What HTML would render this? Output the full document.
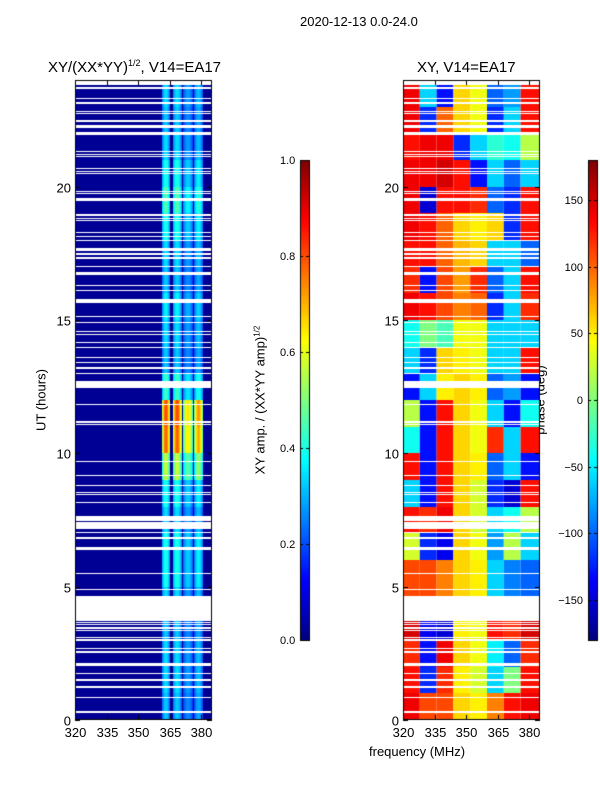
<!DOCTYPE html>
<html><head><meta charset="utf-8"><style>
body{margin:0;background:#fff;width:600px;height:800px;position:relative;overflow:hidden;font-family:"Liberation Sans","DejaVu Sans",sans-serif;color:#000}
.t{position:absolute;white-space:nowrap;font-size:13px}
canvas{position:absolute}
</style></head><body>
<div class="t" style="left:300px;top:14px">2020-12-13 0.0-24.0</div>
<div class="t" style="left:48px;top:58px;font-size:15px">XY/(XX*YY)<sup style="font-size:9px">1/2</sup>, V14=EA17</div>
<div class="t" style="left:417px;top:59px;font-size:15px">XY, V14=EA17</div>
<div class="t" style="left:41px;top:400px;transform:translate(-50%,-50%) rotate(-90deg)">UT (hours)</div>
<div class="t" style="left:369px;top:744px">frequency (MHz)</div>
<div class="t" style="left:260px;top:400px;transform:translate(-50%,-50%) rotate(-90deg)">XY amp. / (XX*YY amp)<sup style="font-size:8px">1/2</sup></div>
<div class="t" style="left:540px;top:400px;transform:translate(-50%,-50%) rotate(-90deg)">phase (deg)</div>
<canvas id="c" width="600" height="800" style="left:0;top:0"></canvas>
<div id="lbl"></div>
<script>
const hourAmp=[0.28,0.3,0.3,0.28,0.3,0.35,0.35,0.3,0.35,0.5,0.68,0.7,0.38,0.28,0.3,0.32,0.28,0.3,0.35,0.4,0.35,0.3,0.28,0.3];
const bandRanges=[[361.4,365.2],[366.5,370.8],[371.4,376.2],[376.7,380.9]];
const bandGain=[1.05,1.05,0.85,0.95];
const bgAmp=0.02;
const flags=[[23.8,24],[23.68,23.72],[23.3,23.34],[23.09,23.17],[22.81,22.85],[22.73,22.77],[22.44,22.5],[22.2,22.3],[21.93,22.04],[21.31,21.35],[21.18,21.22],[21.12,21.16],[20.67,20.71],[20.56,20.6],[20.48,20.52],[19.81,19.85],[19.73,19.77],[19.45,19.56],[18.9,18.96],[18.8,18.84],[18.7,18.74],[18.25,18.3],[18.1,18.15],[17.95,18.0],[17.6,17.7],[17.45,17.5],[17.27,17.35],[16.98,17.02],[16.7,16.8],[16.28,16.32],[16.08,16.12],[15.65,15.8],[15.11,15.15],[14.88,14.92],[14.55,14.59],[14.44,14.48],[14.13,14.17],[13.95,13.99],[13.58,13.62],[13.38,13.42],[13.18,13.22],[12.98,13.02],[12.5,12.7],[12.45,12.49],[11.81,11.85],[11.15,11.22],[11.06,11.1],[9.67,9.71],[9.14,9.18],[8.77,8.81],[8.5,8.54],[8.43,8.47],[8.13,8.17],[7.47,7.66],[7.17,7.43],[7.0,7.04],[6.8,6.85],[6.38,6.5],[5.46,5.5],[4.86,4.9],[3.72,4.66],[3.62,3.66],[3.55,3.59],[3.43,3.47],[3.32,3.36],[3.06,3.1],[2.98,3.02],[2.65,2.69],[2.53,2.57],[2.03,2.14],[1.71,1.75],[1.46,1.54],[1.2,1.28],[0.84,0.88],[0.28,0.32]];
const phaseGrid=[
[140,110,110,60,50,90,130,140],
[130,-120,120,50,30,-60,0,130],
[120,-130,140,60,40,-50,-100,120],
[150,-140,-150,50,40,130,120,150],
[110,110,90,60,50,-60,-90,-100],
[110,110,90,60,50,-60,-90,-100],
[30,-120,-140,60,40,-80,20,-60],
[130,120,140,60,30,-60,-40,20],
[-60,-130,130,60,30,-120,-150,130],
[130,-130,130,60,50,-100,-60,-130],
[-40,-130,130,60,40,120,-60,130],
[20,-130,130,60,40,-60,-130,-40],
[-130,-60,50,60,50,-100,-80,-130],
[-60,-120,60,50,40,-60,-60,130],
[-40,0,-20,40,40,-60,-60,-60],
[140,130,110,90,100,-120,-60,120],
[120,-130,110,80,120,-100,-60,130],
[130,130,100,70,60,-60,-60,-100],
[140,130,100,60,50,60,-120,130],
[140,-150,130,130,120,-100,-120,130],
[140,140,150,130,-130,-60,-100,-60],
[130,140,140,-120,-60,-30,-40,20],
[140,-120,100,60,40,-120,-60,130],
[140,-60,-130,60,40,-100,-80,130]];
const phaseEdges=[320,328,336,344,352,360,368,376,385.2];
const xTicks=[320,335,350,365,380];
const yTicks=[0,5,10,15,20];
const ampTicks=[0,0.2,0.4,0.6,0.8,1.0];
const phTicks=[-150,-100,-50,0,50,100,150];

function jet(v){v=Math.max(0,Math.min(1,v));
 const f=x=>Math.max(0,Math.min(1,1.5-Math.abs(4*v-x)));
 return `rgb(${Math.round(255*f(3))},${Math.round(255*f(2))},${Math.round(255*f(1))})`;}
const T=80,B=720;
const yS=h=>B-(B-T)*h/24;
const xL=f=>75+(f-320)*2.1, xR=f=>403+(f-320)*2.1;
const cx=document.getElementById('c').getContext('2d');
const flagged=h=>flags.some(r=>h>=r[0]&&h<=r[1]);
for(let y=T;y<B;y++){const h=(B-y-0.5)/(B-T)*24;const hi=Math.min(23,Math.floor(h));
 if(flagged(h)){cx.fillStyle='#fff';cx.fillRect(75,y,137,1);continue;}
 for(let x=75;x<212;x++){const f=320+(x+0.5-75)/2.1;let v=bgAmp;
  bandRanges.forEach((b,i)=>{if(f>=b[0]&&f<=b[1]){const c=(f-b[0])/(b[1]-b[0]);v=hourAmp[hi]*bandGain[i]*(0.7+0.4*Math.sin(Math.PI*c));}});
  cx.fillStyle=jet(v);cx.fillRect(x,y,1,1);}}
for(let y=T;y<B;y++){const h=(B-y-0.5)/(B-T)*24;const hi=Math.min(23,Math.floor(h));
 if(flagged(h)){cx.fillStyle='#fff';cx.fillRect(403,y,137,1);continue;}
 for(let c=0;c<8;c++){const x0=xR(phaseEdges[c]),x1=Math.min(540,xR(phaseEdges[c+1]));
  cx.fillStyle=jet((phaseGrid[hi][c]+180)/360);cx.fillRect(x0,y,x1-x0,1);}}
for(let y=160;y<640;y++){const v=(640-y)/480;cx.fillStyle=jet(v);cx.fillRect(300,y,9,1);cx.fillRect(588,y,9,1);}
cx.strokeStyle='#000';cx.lineWidth=1;
[[75,212],[403,540]].forEach(a=>cx.strokeRect(a[0]+0.5,T+0.5,a[1]-a[0]-1,B-T-1));
cx.strokeRect(300.5,160.5,9,480);cx.strokeRect(588.5,160.5,9,480);
const L=document.getElementById('lbl');
function lab(txt,x,y,al,name,fs){const d=document.createElement('div');d.className='t';d.textContent=txt;
 d.style.left=x+'px';d.style.top=y+'px';d.style.transform=al;if(fs)d.style.fontSize=fs;
 
 
 L.appendChild(d);}
cx.beginPath();
yTicks.forEach(t=>{const y=Math.round(yS(t))+0.5;
 [75,403].forEach(x0=>{cx.moveTo(x0,y);cx.lineTo(x0+5,y);cx.moveTo(x0+137,y);cx.lineTo(x0+132,y);
  lab(String(t),x0-4,y,'translate(-100%,-50%)','y-tick-label');});});
xTicks.forEach(t=>{[xL,xR].forEach(fx=>{const x=Math.round(fx(t))+0.5;cx.moveTo(x,T);cx.lineTo(x,T+5);cx.moveTo(x,B);cx.lineTo(x,B-5);
  lab(String(t),x,B+5,'translateX(-50%)','x-tick-label');});});
ampTicks.forEach(t=>{const y=Math.round(640-480*t)+0.5;cx.moveTo(300,y);cx.lineTo(303,y);cx.moveTo(309,y);cx.lineTo(306,y);
 lab(t.toFixed(1),280,y,'translate(0,-50%)','amp-colorbar-tick','11px');});
phTicks.forEach(t=>{const y=Math.round(400-480*t/360)+0.5;cx.moveTo(588,y);cx.lineTo(591,y);cx.moveTo(597,y);cx.lineTo(594,y);
 lab(t<0?'\u2212'+(-t):String(t),583,y,'translate(-100%,-50%)','phase-colorbar-tick','11px');});
cx.stroke();
</script>
</body></html>
